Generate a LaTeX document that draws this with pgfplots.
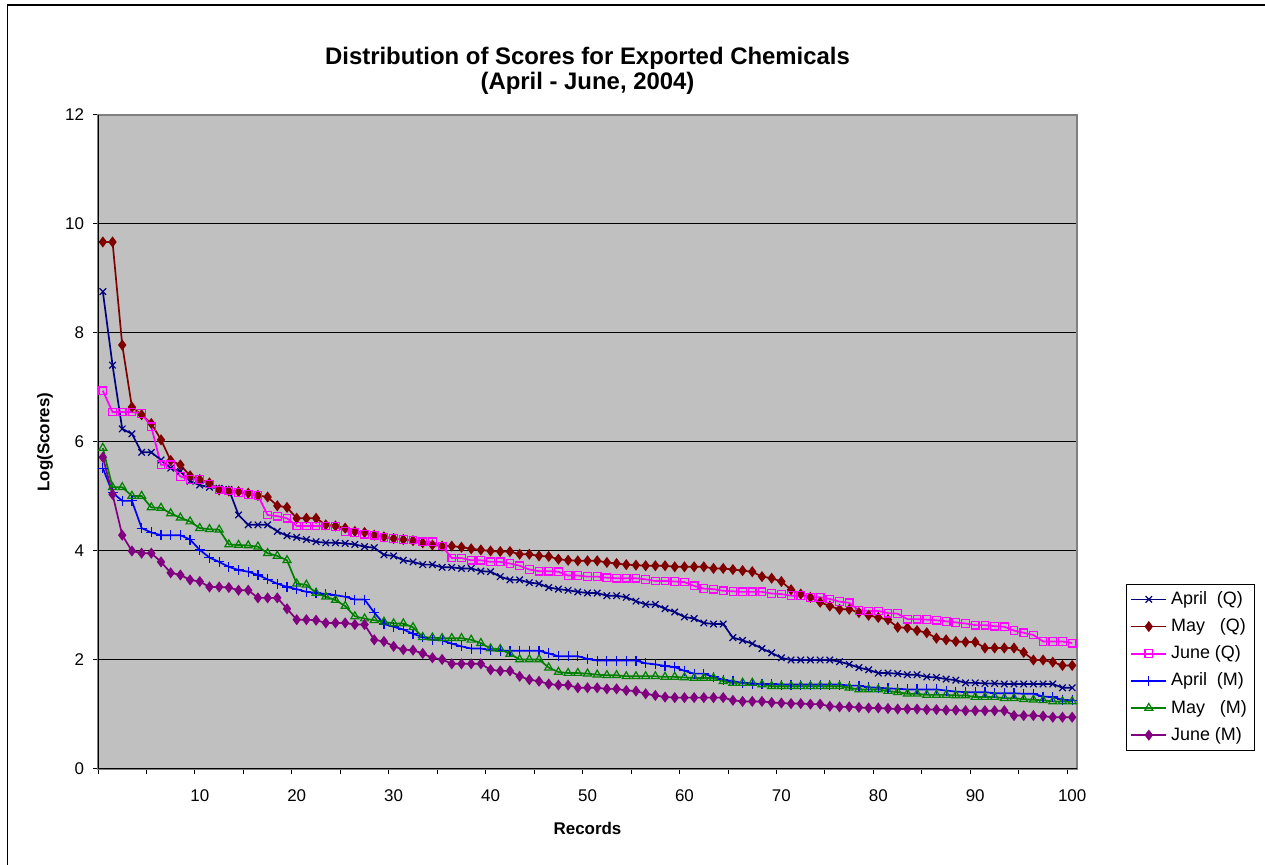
\documentclass[border=0pt]{standalone}
\usepackage{fontspec}
\setmainfont{Liberation Sans}
\usepackage{pgfplots}
\usepackage{pgfplotstable}
\pgfplotsset{compat=1.18}
\definecolor{cnavy}{HTML}{000080}
\definecolor{cmaroon}{HTML}{800000}
\definecolor{cmag}{HTML}{FF00FF}
\definecolor{cblue}{HTML}{0000FF}
\definecolor{cgreen}{HTML}{008000}
\definecolor{cpurp}{HTML}{800080}
\definecolor{plotbg}{HTML}{C0C0C0}
\definecolor{frame}{HTML}{808080}

\pgfplotstableread{
i aQ mQ jQ aM mM jM
0 8.76 9.67 6.94 5.52 5.89 5.72
1 7.41 9.67 6.55 5.07 5.17 5.04
2 6.24 7.78 6.55 4.92 5.17 4.29
3 6.15 6.64 6.55 4.92 5.01 4.00
4 5.81 6.50 6.52 4.42 5.01 3.96
5 5.81 6.34 6.28 4.34 4.80 3.96
6 5.67 6.04 5.58 4.29 4.79 3.80
7 5.52 5.66 5.58 4.29 4.69 3.60
8 5.46 5.58 5.37 4.29 4.61 3.56
9 5.28 5.38 5.31 4.21 4.54 3.47
10 5.21 5.31 5.31 4.02 4.42 3.44
11 5.17 5.25 5.23 3.88 4.40 3.34
12 5.15 5.12 5.12 3.80 4.39 3.34
13 5.13 5.10 5.10 3.71 4.12 3.33
14 4.66 5.09 5.07 3.65 4.11 3.28
15 4.48 5.06 5.04 3.62 4.10 3.28
16 4.48 5.02 5.02 3.56 4.08 3.14
17 4.48 4.99 4.66 3.48 3.96 3.14
18 4.36 4.83 4.64 3.40 3.91 3.14
19 4.28 4.80 4.60 3.34 3.83 2.94
20 4.25 4.60 4.46 3.30 3.40 2.74
21 4.21 4.60 4.46 3.25 3.38 2.74
22 4.17 4.60 4.46 3.23 3.23 2.73
23 4.15 4.48 4.46 3.21 3.16 2.68
24 4.15 4.46 4.45 3.19 3.10 2.68
25 4.14 4.42 4.36 3.16 2.99 2.68
26 4.12 4.36 4.34 3.11 2.80 2.65
27 4.08 4.34 4.31 3.11 2.76 2.65
28 4.06 4.29 4.29 2.87 2.73 2.37
29 3.93 4.26 4.25 2.66 2.70 2.34
30 3.91 4.23 4.23 2.61 2.67 2.25
31 3.83 4.21 4.21 2.56 2.67 2.19
32 3.80 4.19 4.20 2.48 2.60 2.18
33 3.75 4.15 4.17 2.42 2.42 2.12
34 3.75 4.11 4.17 2.37 2.41 2.04
35 3.70 4.09 4.09 2.36 2.40 2.01
36 3.70 4.09 3.87 2.30 2.40 1.93
37 3.68 4.07 3.87 2.25 2.40 1.93
38 3.68 4.04 3.83 2.21 2.37 1.93
39 3.63 4.02 3.83 2.21 2.31 1.93
40 3.62 4.00 3.80 2.18 2.21 1.82
41 3.53 3.99 3.80 2.17 2.20 1.80
42 3.47 3.99 3.77 2.17 2.11 1.80
43 3.47 3.94 3.73 2.17 2.01 1.70
44 3.42 3.94 3.66 2.17 2.01 1.64
45 3.40 3.91 3.63 2.17 2.01 1.61
46 3.33 3.90 3.63 2.12 1.86 1.56
47 3.30 3.85 3.62 2.07 1.78 1.54
48 3.28 3.83 3.55 2.07 1.76 1.54
49 3.25 3.82 3.55 2.07 1.76 1.49
50 3.23 3.82 3.53 2.02 1.75 1.49
51 3.23 3.82 3.53 1.99 1.73 1.49
52 3.18 3.79 3.51 1.99 1.72 1.47
53 3.18 3.77 3.50 1.99 1.72 1.47
54 3.15 3.75 3.50 1.99 1.70 1.44
55 3.08 3.74 3.50 1.99 1.70 1.43
56 3.02 3.73 3.48 1.94 1.70 1.38
57 3.02 3.73 3.45 1.92 1.70 1.35
58 2.94 3.73 3.45 1.89 1.69 1.32
59 2.88 3.71 3.44 1.87 1.69 1.31
60 2.79 3.71 3.43 1.80 1.68 1.31
61 2.76 3.71 3.36 1.75 1.67 1.31
62 2.68 3.71 3.31 1.75 1.67 1.31
63 2.66 3.68 3.30 1.69 1.67 1.31
64 2.66 3.68 3.27 1.64 1.61 1.31
65 2.41 3.66 3.26 1.61 1.58 1.26
66 2.36 3.64 3.25 1.58 1.58 1.24
67 2.30 3.62 3.25 1.56 1.58 1.24
68 2.21 3.53 3.25 1.56 1.55 1.24
69 2.13 3.50 3.22 1.56 1.52 1.22
70 2.04 3.44 3.21 1.55 1.52 1.21
71 2.00 3.29 3.18 1.55 1.52 1.20
72 2.00 3.21 3.18 1.55 1.52 1.20
73 2.00 3.15 3.15 1.55 1.52 1.19
74 2.00 3.06 3.15 1.55 1.52 1.19
75 2.00 2.99 3.12 1.55 1.52 1.15
76 1.97 2.93 3.07 1.55 1.52 1.14
77 1.92 2.93 3.05 1.53 1.49 1.14
78 1.86 2.87 2.91 1.53 1.46 1.13
79 1.82 2.82 2.90 1.50 1.46 1.12
80 1.76 2.78 2.90 1.49 1.46 1.12
81 1.76 2.74 2.86 1.48 1.43 1.11
82 1.75 2.60 2.85 1.47 1.41 1.10
83 1.73 2.59 2.75 1.46 1.38 1.10
84 1.73 2.54 2.75 1.46 1.38 1.10
85 1.69 2.50 2.74 1.46 1.36 1.09
86 1.68 2.40 2.73 1.46 1.36 1.09
87 1.65 2.37 2.71 1.44 1.36 1.08
88 1.63 2.34 2.69 1.42 1.35 1.08
89 1.58 2.33 2.67 1.41 1.35 1.07
90 1.58 2.33 2.64 1.41 1.32 1.07
91 1.57 2.22 2.64 1.41 1.32 1.07
92 1.57 2.22 2.62 1.39 1.32 1.07
93 1.56 2.22 2.61 1.39 1.30 1.07
94 1.56 2.22 2.54 1.39 1.30 0.98
95 1.56 2.14 2.50 1.38 1.28 0.98
96 1.56 2.00 2.46 1.38 1.27 0.98
97 1.56 2.00 2.34 1.33 1.26 0.97
98 1.56 1.96 2.34 1.32 1.24 0.95
99 1.49 1.90 2.34 1.27 1.24 0.95
100 1.49 1.90 2.31 1.26 1.24 0.95
}\scores

\begin{document}
\begin{tikzpicture}
\useasboundingbox (0,0) rectangle (632.5bp,432.5bp);
\fill[white] (0,0) rectangle (632.5bp,432.5bp);
\draw[line width=0.8bp] (3.65bp,-10bp) rectangle (650bp,430bp);
\begin{axis}[
  at={(49bp,48bp)}, anchor=south west,
  scale only axis, width=489.5bp, height=327bp,
  xmin=-0.5, xmax=100.5, ymin=0, ymax=12,
  axis background/.style={fill=plotbg},
  axis line style={draw=frame, line width=0.8bp},
  /pgf/number format/assume math mode=true,
  tick label style={font=\fontsize{8.5}{10}\selectfont},
  xtick={-0.5,4.5,...,99.5}, xticklabels={},
  extra x ticks={10,20,...,100},
  extra x tick style={major tick length=0pt},
  extra x tick labels={10,20,30,40,50,60,70,80,90,100},
  xticklabel style={yshift=-7bp},
  ytick={0,2,...,12},
  yticklabel style={xshift=-1bp},
  tick align=outside, xtick pos=bottom, ytick pos=left,
  major tick length=2.5bp,
  tick style={black, line width=0.5bp},
  ymajorgrids, grid style={black, line width=0.5bp},
  title={Distribution of Scores for Exported Chemicals\\(April - June, 2004)},
  title style={at={(axis description cs:0.5,1.0497)}, anchor=center, align=center,
    font=\fontsize{12}{12.5}\selectfont\bfseries},
  xlabel={Records},
  xlabel style={at={(axis description cs:0.5,-0.0902)}, anchor=center,
    font=\fontsize{8.5}{10}\selectfont\bfseries},
  ylabel={Log(Scores)},
  ylabel style={at={(axis description cs:-0.0541,0.5)}, anchor=center,
    font=\fontsize{8.5}{10}\selectfont\bfseries},
  every axis plot/.append style={line width=0.85bp, mark options={solid, line width=0.6bp}},
  legend style={at={(1.050,0.283)}, anchor=north west, draw=black, fill=white,
    line width=0.5bp, font=\fontsize{9}{10.5}\selectfont, row sep=1.6bp,
    inner xsep=2bp, inner ysep=1.5bp},
  legend cell align=left,
  legend image code/.code={\draw[mark repeat=2,mark phase=2]
    plot coordinates {(0bp,0bp) (8.75bp,0bp) (17.5bp,0bp)};},
]
\addplot[color=cnavy, mark=x, mark size=2.3bp] table[x=i, y=aQ] {\scores};
\addlegendentry{April~~(Q)}
\addplot[color=cmaroon, mark=diamond*, mark size=2.3bp] table[x=i, y=mQ] {\scores};
\addlegendentry{May~~~(Q)}
\addplot[color=cmag, mark=square, mark size=1.9bp] table[x=i, y=jQ] {\scores};
\addlegendentry{June (Q)}
\addplot[color=cblue, mark=+, mark size=2.5bp] table[x=i, y=aM] {\scores};
\addlegendentry{April~~(M)}
\addplot[color=cgreen, mark=triangle, mark size=2.3bp] table[x=i, y=mM] {\scores};
\addlegendentry{May~~~(M)}
\addplot[color=cpurp, mark=diamond*, mark size=2.3bp] table[x=i, y=jM] {\scores};
\addlegendentry{June (M)}
\draw[black, line width=0.8bp] (rel axis cs:0,1) -- (rel axis cs:0,0) -- (rel axis cs:1,0);
\end{axis}
\end{tikzpicture}
\end{document}
